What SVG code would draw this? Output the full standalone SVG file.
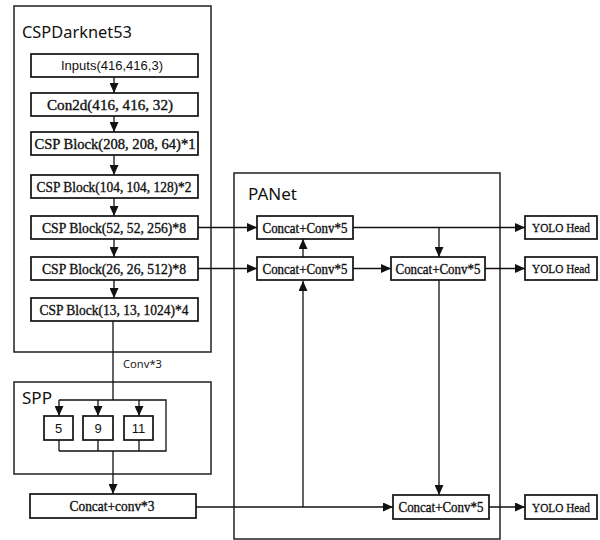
<svg xmlns="http://www.w3.org/2000/svg" width="600" height="540" viewBox="0 0 600 540">
<style>
.frame{fill:none;stroke:#222;stroke-width:1.5}
.box{fill:#fff;stroke:#111;stroke-width:1.7}
.t{font-family:"Liberation Serif","DejaVu Serif",serif;font-size:14px;fill:#111;stroke:#111;stroke-width:0.35;text-anchor:middle}
.y{font-family:"Liberation Serif","DejaVu Serif",serif;font-size:13px;fill:#111;stroke:#111;stroke-width:0.3;text-anchor:middle}
.s{font-family:"Liberation Sans","Noto Sans",sans-serif;font-size:13px;fill:#111;text-anchor:middle}
.title{font-family:"Noto Sans","Liberation Sans",sans-serif;font-size:17px;fill:#111}
.lbl{font-family:"Noto Sans","Liberation Sans",sans-serif;font-size:11px;fill:#222}
.c{fill:none;stroke:#111;stroke-width:1.3}
.a{marker-end:url(#arr)}
</style>
<defs>
<marker id="arr" markerUnits="userSpaceOnUse" markerWidth="10" markerHeight="9" refX="10" refY="4.5" orient="auto">
<path d="M0,0 L10,4.5 L0,9 z" fill="#111"/>
</marker>
</defs>
<g id="frames">
<rect class="frame" x="14" y="6" width="197" height="346"/>
<text class="title" x="22" y="38" textLength="110" lengthAdjust="spacingAndGlyphs">CSPDarknet53</text>
<rect class="frame" x="14" y="382" width="197" height="92"/>
<text class="title" x="22" y="404" textLength="30" lengthAdjust="spacingAndGlyphs">SPP</text>
<rect class="frame" x="234" y="173" width="266" height="366"/>
<text class="title" x="248" y="200" textLength="49" lengthAdjust="spacingAndGlyphs">PANet</text>
</g>
<g id="connectors">
<path class="c a" d="M114,77 V93"/>
<path class="c a" d="M114,116 V132"/>
<path class="c a" d="M114,155 V175"/>
<path class="c a" d="M114,198 V216"/>
<path class="c a" d="M114,239 V257"/>
<path class="c a" d="M114,280 V298"/>
<path class="c" d="M113,321 V400 M59,400 H166 V451 H59"/>
<path class="c a" d="M59,400 V416"/>
<path class="c a" d="M98,400 V416"/>
<path class="c a" d="M139,400 V416"/>
<path class="c" d="M59,440 V451 M98,440 V451 M139,440 V451"/>
<path class="c a" d="M113,451 V494"/>
<path class="c a" d="M196,507 H393"/>
<path class="c a" d="M303,507 V281"/>
<path class="c a" d="M198,227.5 H257"/>
<path class="c a" d="M198,268.5 H257"/>
<path class="c a" d="M303,257 V239"/>
<path class="c a" d="M353,227.5 H525"/>
<path class="c a" d="M439,227.5 V257"/>
<path class="c a" d="M353,268.5 H391"/>
<path class="c a" d="M485,268.5 H525"/>
<path class="c a" d="M439,280 V495"/>
<path class="c a" d="M489,507 H525"/>
<text class="lbl" x="123" y="368" textLength="39" lengthAdjust="spacingAndGlyphs">Conv*3</text>
</g>
<g id="n_inputs"><rect class="box" x="31" y="54" width="167" height="23"/><text class="s" x="112" y="70" textLength="102" lengthAdjust="spacingAndGlyphs">Inputs(416,416,3)</text></g>
<g id="n_con2d"><rect class="box" x="31" y="93" width="167" height="23"/><text class="t" x="110" y="109.5" textLength="126" lengthAdjust="spacingAndGlyphs">Con2d(416, 416, 32)</text></g>
<g id="n_csp1"><rect class="box" x="31" y="132" width="167" height="23"/><text class="t" x="115" y="148.5" textLength="161" lengthAdjust="spacingAndGlyphs">CSP Block(208, 208, 64)*1</text></g>
<g id="n_csp2"><rect class="box" x="31" y="175" width="167" height="23"/><text class="t" x="114" y="191.5" textLength="155" lengthAdjust="spacingAndGlyphs">CSP Block(104, 104, 128)*2</text></g>
<g id="n_csp3"><rect class="box" x="31" y="216" width="167" height="23"/><text class="t" x="114" y="232.5" textLength="144" lengthAdjust="spacingAndGlyphs">CSP Block(52, 52, 256)*8</text></g>
<g id="n_csp4"><rect class="box" x="31" y="257" width="167" height="23"/><text class="t" x="114" y="273.5" textLength="144" lengthAdjust="spacingAndGlyphs">CSP Block(26, 26, 512)*8</text></g>
<g id="n_csp5"><rect class="box" x="31" y="298" width="167" height="23"/><text class="t" x="114" y="314.5" textLength="149" lengthAdjust="spacingAndGlyphs">CSP Block(13, 13, 1024)*4</text></g>
<g id="n_p5"><rect class="box" x="44" y="416" width="29" height="24"/><text class="s" x="58.5" y="432.5">5</text></g>
<g id="n_p9"><rect class="box" x="83" y="416" width="30" height="24"/><text class="s" x="98" y="432.5">9</text></g>
<g id="n_p11"><rect class="box" x="124" y="416" width="29" height="24"/><text class="s" x="138.5" y="432.5">11</text></g>
<g id="n_concat3"><rect class="box" x="30" y="494" width="166" height="24"/><text class="t" x="112" y="511" textLength="85" lengthAdjust="spacingAndGlyphs">Concat+conv*3</text></g>
<g id="n_pa1"><rect class="box" x="257" y="216" width="96" height="23"/><text class="t" x="305" y="232.5" textLength="85" lengthAdjust="spacingAndGlyphs">Concat+Conv*5</text></g>
<g id="n_pa2"><rect class="box" x="257" y="257" width="96" height="23"/><text class="t" x="305" y="273.5" textLength="85" lengthAdjust="spacingAndGlyphs">Concat+Conv*5</text></g>
<g id="n_pa3"><rect class="box" x="391" y="257" width="94" height="23"/><text class="t" x="438" y="273.5" textLength="85" lengthAdjust="spacingAndGlyphs">Concat+Conv*5</text></g>
<g id="n_pa4"><rect class="box" x="393" y="495" width="96" height="24"/><text class="t" x="441" y="512" textLength="85" lengthAdjust="spacingAndGlyphs">Concat+Conv*5</text></g>
<g id="n_yolo1"><rect class="box" x="525" y="216" width="72" height="23"/><text class="y" x="561" y="232" textLength="58" lengthAdjust="spacingAndGlyphs">YOLO Head</text></g>
<g id="n_yolo2"><rect class="box" x="525" y="257" width="72" height="23"/><text class="y" x="561" y="273" textLength="58" lengthAdjust="spacingAndGlyphs">YOLO Head</text></g>
<g id="n_yolo3"><rect class="box" x="525" y="495" width="72" height="24"/><text class="y" x="561" y="511.5" textLength="58" lengthAdjust="spacingAndGlyphs">YOLO Head</text></g>
</svg>
